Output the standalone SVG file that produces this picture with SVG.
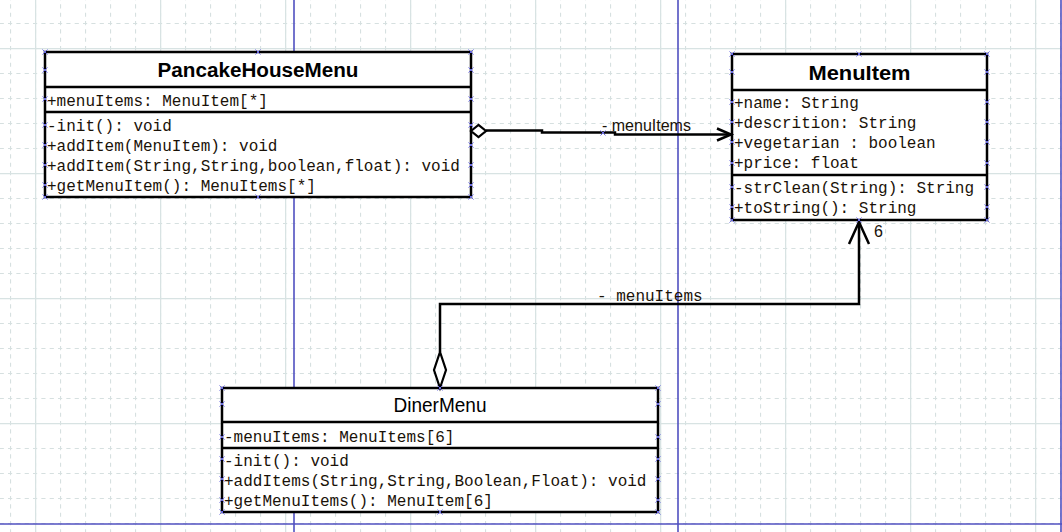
<svg xmlns="http://www.w3.org/2000/svg" xmlns:xlink="http://www.w3.org/1999/xlink" width="1062" height="532" viewBox="0 0 1062 532">
<style>
.box{fill:#fff;stroke:#000;stroke-width:2.5}
.div{stroke:#000;stroke-width:2.5}
.title{font-family:"Liberation Sans",Arial,sans-serif;font-size:20px;fill:#000;text-anchor:middle}
.b{font-weight:bold}
.mem{font-family:"Liberation Mono","Courier New",monospace;font-size:16px;fill:#1a1208}
.lbl{font-family:"Liberation Sans",Arial,sans-serif;font-size:16px;fill:#1a1208}
.conn{fill:none;stroke:#000;stroke-width:2.5}
.page{stroke:#5050c0;stroke-width:1.6}
.hx{stroke:#6a6ae0;stroke-width:1;fill:none}
</style>
<defs>
<pattern id="dash" patternUnits="userSpaceOnUse" x="10" y="23" width="25" height="25">
<path d="M0.5,0 V25 M0,0.5 H25" stroke="#d6e0e0" stroke-width="1.2" stroke-dasharray="4.17 4.17" stroke-dashoffset="2" fill="none"/>
</pattern>
<pattern id="solid" patternUnits="userSpaceOnUse" x="35" y="48" width="125" height="125">
<path d="M0.5,0 V125 M0,0.5 H125" stroke="#d8e3e3" stroke-width="1.5" fill="none"/>
</pattern>
<path id="hx" class="hx" d="M-2.5,-2.5 L2.5,2.5 M-2.5,2.5 L2.5,-2.5"/>
</defs>
<rect width="1062" height="532" fill="#fff"/>
<rect width="1062" height="532" fill="url(#dash)"/>
<rect width="1062" height="532" fill="url(#solid)"/>
<g id="page-lines">
<line class="page" x1="294" y1="0" x2="294" y2="532"/>
<line class="page" x1="678" y1="0" x2="678" y2="532"/>
<line class="page" x1="1061" y1="0" x2="1061" y2="532"/>
<line class="page" x1="0" y1="524" x2="1062" y2="524"/>
</g>
<g id="PancakeHouseMenu">
<rect class="box" x="45" y="52" width="426" height="145"/>
<line class="div" x1="45" y1="87" x2="471" y2="87"/>
<line class="div" x1="45" y1="112" x2="471" y2="112"/>
<text class="title b" x="258" y="77" textLength="201" lengthAdjust="spacingAndGlyphs">PancakeHouseMenu</text>
<text class="mem" x="47" y="106">+menuItems: MenuItem[*]</text>
<text class="mem" x="47" y="131">-init(): void</text>
<text class="mem" x="47" y="151">+addItem(MenuItem): void</text>
<text class="mem" x="47" y="171">+addItem(String,String,boolean,float): void</text>
<text class="mem" x="47" y="191">+getMenuItem(): MenuItems[*]</text>
</g>
<g id="MenuItem">
<rect class="box" x="732" y="54" width="255" height="166"/>
<line class="div" x1="732" y1="90" x2="987" y2="90"/>
<line class="div" x1="732" y1="175" x2="987" y2="175"/>
<text class="title b" x="859.5" y="80" textLength="102" lengthAdjust="spacingAndGlyphs">MenuItem</text>
<text class="mem" x="734" y="108">+name: String</text>
<text class="mem" x="734" y="128">+descrition: String</text>
<text class="mem" x="734" y="148">+vegetarian : boolean</text>
<text class="mem" x="734" y="168">+price: float</text>
<text class="mem" x="734" y="193">-strClean(String): String</text>
<text class="mem" x="734" y="213">+toString(): String</text>
</g>
<g id="DinerMenu">
<rect class="box" x="222" y="388" width="436" height="124"/>
<line class="div" x1="222" y1="422" x2="658" y2="422"/>
<line class="div" x1="222" y1="448" x2="658" y2="448"/>
<text class="title" x="440" y="412" font-size="19" textLength="93" lengthAdjust="spacingAndGlyphs">DinerMenu</text>
<text class="mem" x="224" y="442">-menuItems: MenuItems[6]</text>
<text class="mem" x="224" y="466">-init(): void</text>
<text class="mem" x="224" y="486">+addItems(String,String,Boolean,Float): void</text>
<text class="mem" x="224" y="506">+getMenuItems(): MenuItem[6]</text>
</g>
<g id="connectors">
<g id="pancake-to-menuitem">
<polyline class="conn" points="486,130.5 542,130.5 542,132.5 615,132.5 615,134.5 731,134.5"/>
<polygon points="471,131 478.5,125 486,131 478.5,137" fill="#fff" stroke="#000" stroke-width="2.2"/>
<polyline class="conn" points="717,128.5 731,134.5 717,140.5"/>
<text class="lbl" x="602" y="131">- menuItems</text>
</g>
<g id="diner-to-menuitem">
<polyline class="conn" points="440,352 440,304 859,304 859,222"/>
<polygon points="440,388 446,370 440,352 434,370" fill="#fff" stroke="#000" stroke-width="2.2"/>
<polyline class="conn" points="849,244 859,222 869,244"/>
<text class="mem" x="597" y="301">- menuItems</text>
<text class="lbl" x="874" y="237" font-size="12">6</text>
</g>
</g>
<g id="handles">
<use href="#hx" x="45" y="52"/><use href="#hx" x="45" y="70"/><use href="#hx" x="45" y="99"/><use href="#hx" x="45" y="125"/><use href="#hx" x="45" y="145"/><use href="#hx" x="45" y="165"/><use href="#hx" x="45" y="185"/><use href="#hx" x="45" y="197"/>
<use href="#hx" x="471" y="52"/><use href="#hx" x="471" y="70"/><use href="#hx" x="471" y="99"/><use href="#hx" x="471" y="125"/><use href="#hx" x="471" y="145"/><use href="#hx" x="471" y="165"/><use href="#hx" x="471" y="185"/><use href="#hx" x="471" y="197"/>
<use href="#hx" x="258" y="52"/><use href="#hx" x="258" y="197"/>
<use href="#hx" x="732" y="54"/><use href="#hx" x="732" y="72"/><use href="#hx" x="732" y="102"/><use href="#hx" x="732" y="122"/><use href="#hx" x="732" y="142"/><use href="#hx" x="732" y="163"/><use href="#hx" x="732" y="187"/><use href="#hx" x="732" y="207"/><use href="#hx" x="732" y="220"/>
<use href="#hx" x="987" y="54"/><use href="#hx" x="987" y="72"/><use href="#hx" x="987" y="102"/><use href="#hx" x="987" y="122"/><use href="#hx" x="987" y="142"/><use href="#hx" x="987" y="163"/><use href="#hx" x="987" y="187"/><use href="#hx" x="987" y="207"/><use href="#hx" x="987" y="220"/>
<use href="#hx" x="859" y="54"/><use href="#hx" x="859" y="220"/>
<use href="#hx" x="222" y="388"/><use href="#hx" x="222" y="404"/><use href="#hx" x="222" y="437"/><use href="#hx" x="222" y="459"/><use href="#hx" x="222" y="479"/><use href="#hx" x="222" y="500"/><use href="#hx" x="222" y="512"/>
<use href="#hx" x="658" y="388"/><use href="#hx" x="658" y="404"/><use href="#hx" x="658" y="437"/><use href="#hx" x="658" y="459"/><use href="#hx" x="658" y="479"/><use href="#hx" x="658" y="500"/><use href="#hx" x="658" y="512"/>
<use href="#hx" x="440" y="388"/><use href="#hx" x="440" y="512"/>
<use href="#hx" x="603" y="133"/>
</g>
</svg>
